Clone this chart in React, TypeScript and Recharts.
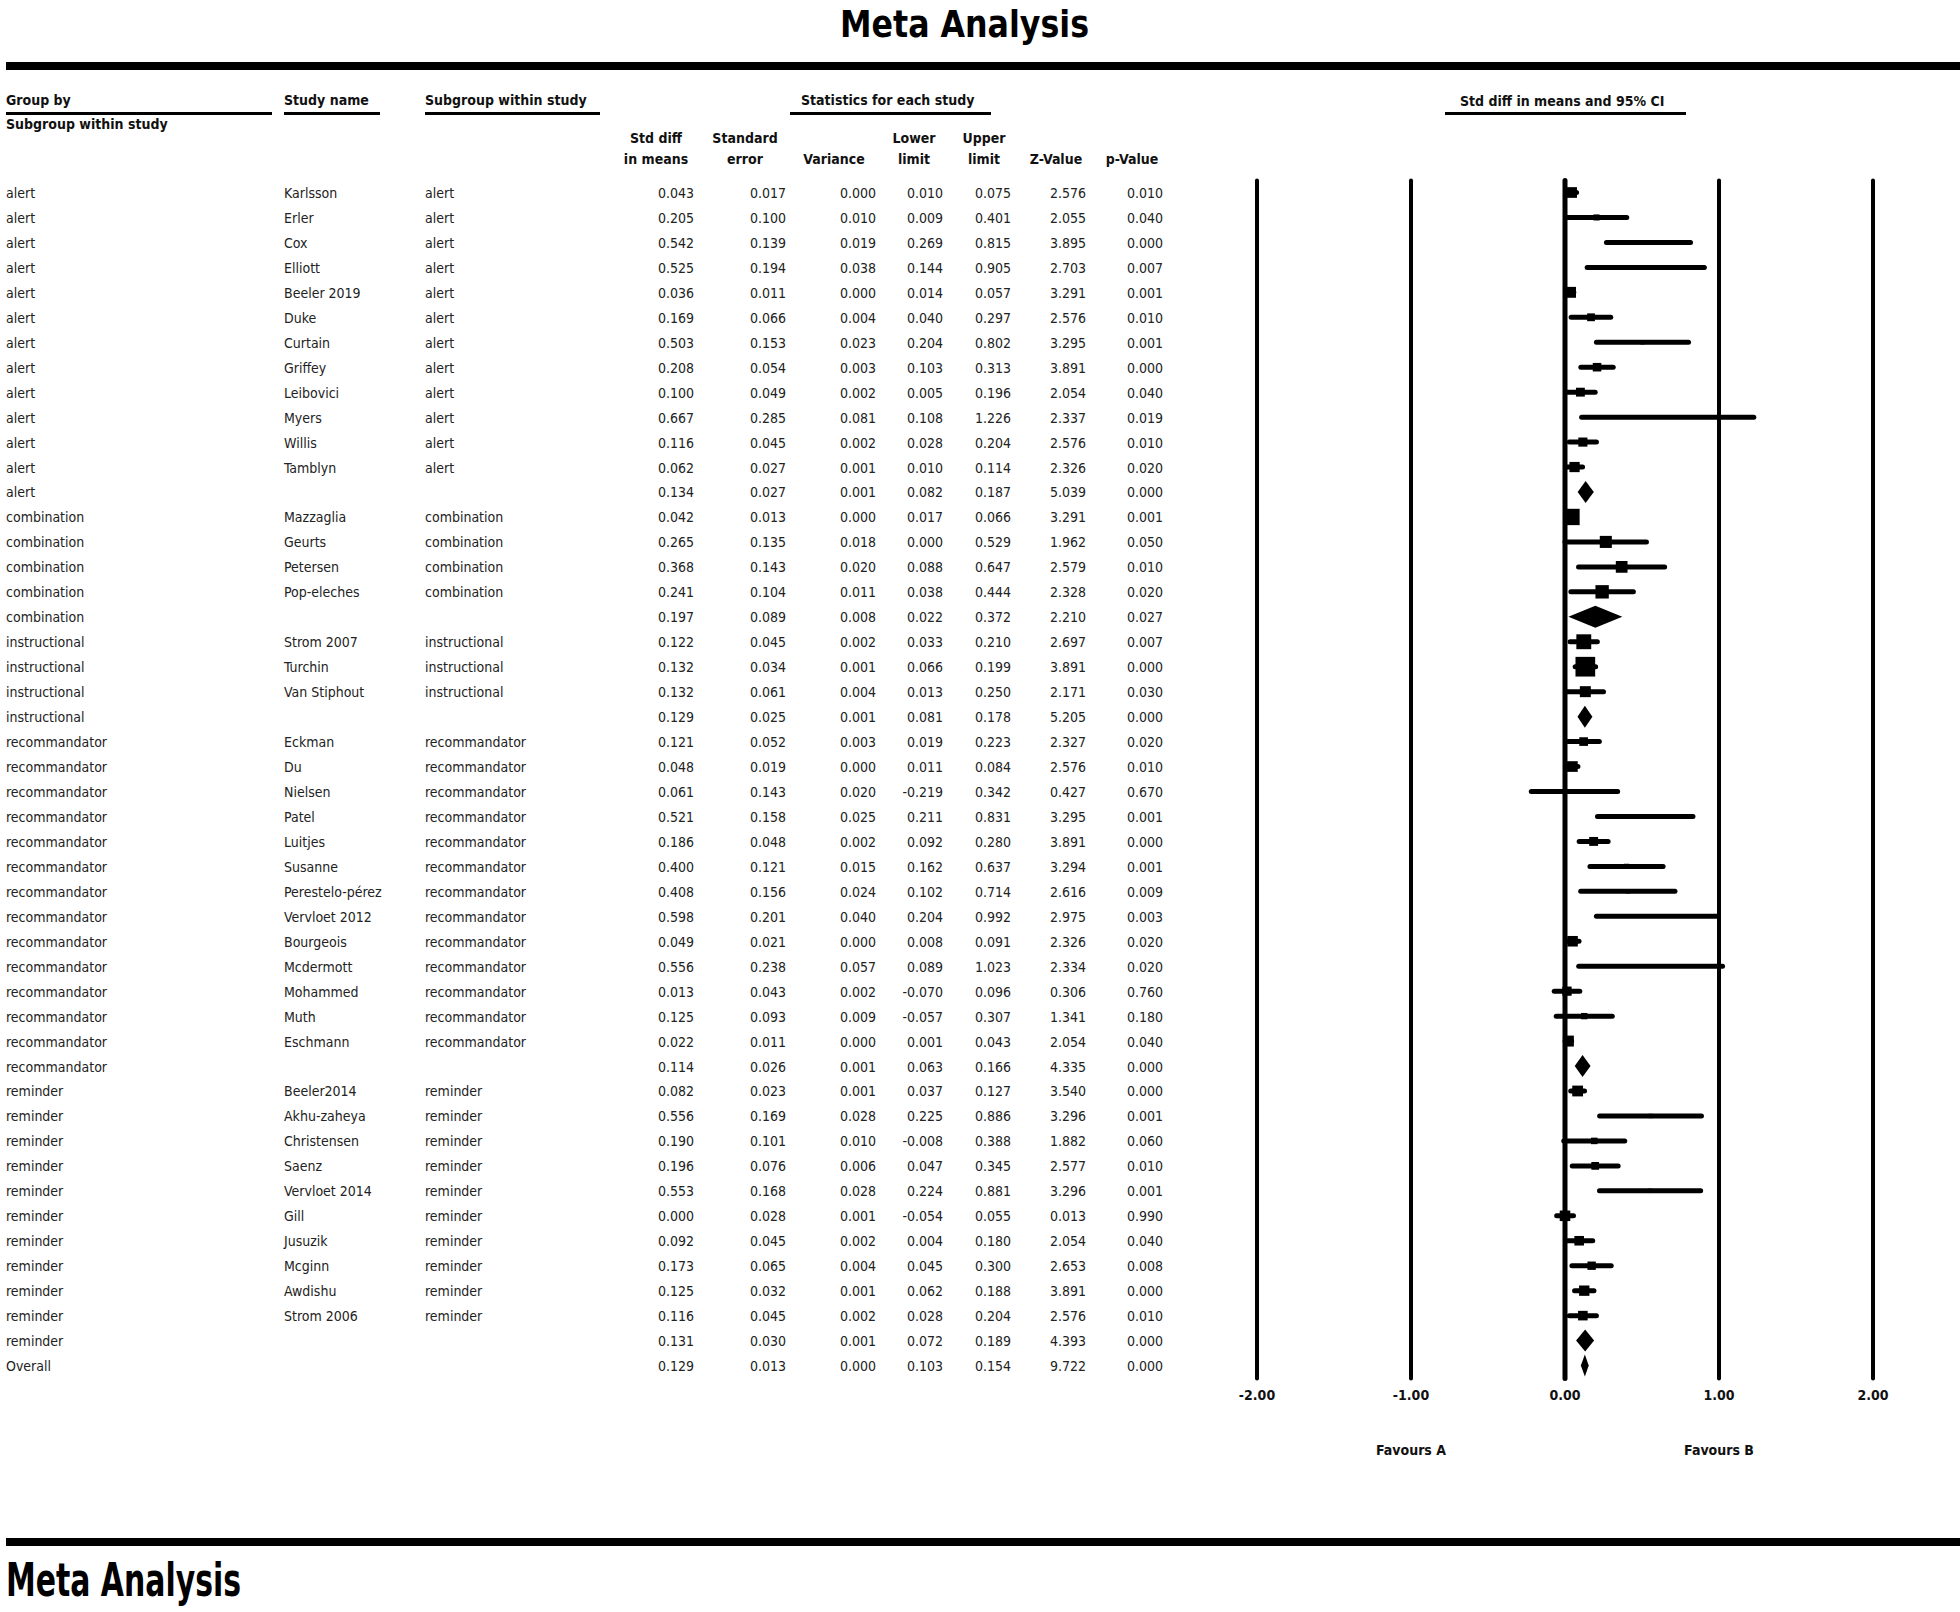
import React from 'react';
import { ComposedChart, Bar, XAxis, YAxis, ReferenceLine } from 'recharts';

const FONT = "'Liberation Sans Narrow', 'DejaVu Sans Condensed', 'Arial Narrow', sans-serif";

const groupBy = [
  'alert', 'alert', 'alert', 'alert', 'alert', 'alert', 'alert', 'alert', 'alert', 'alert', 'alert', 'alert', 'alert',
  'combination', 'combination', 'combination', 'combination', 'combination',
  'instructional', 'instructional', 'instructional', 'instructional',
  'recommandator', 'recommandator', 'recommandator', 'recommandator', 'recommandator', 'recommandator', 'recommandator',
  'recommandator', 'recommandator', 'recommandator', 'recommandator', 'recommandator', 'recommandator', 'recommandator',
  'reminder', 'reminder', 'reminder', 'reminder', 'reminder', 'reminder', 'reminder', 'reminder', 'reminder', 'reminder', 'reminder',
  'Overall',
];

// empty name = subgroup / overall summary row
const studyNames = [
  'Karlsson', 'Erler', 'Cox', 'Elliott', 'Beeler 2019', 'Duke', 'Curtain', 'Griffey', 'Leibovici', 'Myers', 'Willis', 'Tamblyn', '',
  'Mazzaglia', 'Geurts', 'Petersen', 'Pop-eleches', '',
  'Strom 2007', 'Turchin', 'Van Stiphout', '',
  'Eckman', 'Du', 'Nielsen', 'Patel', 'Luitjes', 'Susanne', 'Perestelo-pérez', 'Vervloet 2012', 'Bourgeois', 'Mcdermott',
  'Mohammed', 'Muth', 'Eschmann', '',
  'Beeler2014', 'Akhu-zaheya', 'Christensen', 'Saenz', 'Vervloet 2014', 'Gill', 'Jusuzik', 'Mcginn', 'Awdishu', 'Strom 2006', '',
  '',
];

const stdDiff = [
  0.043, 0.205, 0.542, 0.525, 0.036, 0.169, 0.503, 0.208, 0.100, 0.667, 0.116, 0.062, 0.134,
  0.042, 0.265, 0.368, 0.241, 0.197,
  0.122, 0.132, 0.132, 0.129,
  0.121, 0.048, 0.061, 0.521, 0.186, 0.400, 0.408, 0.598, 0.049, 0.556, 0.013, 0.125, 0.022, 0.114,
  0.082, 0.556, 0.190, 0.196, 0.553, 0.000, 0.092, 0.173, 0.125, 0.116, 0.131,
  0.129,
];

const stdErr = [
  0.017, 0.100, 0.139, 0.194, 0.011, 0.066, 0.153, 0.054, 0.049, 0.285, 0.045, 0.027, 0.027,
  0.013, 0.135, 0.143, 0.104, 0.089,
  0.045, 0.034, 0.061, 0.025,
  0.052, 0.019, 0.143, 0.158, 0.048, 0.121, 0.156, 0.201, 0.021, 0.238, 0.043, 0.093, 0.011, 0.026,
  0.023, 0.169, 0.101, 0.076, 0.168, 0.028, 0.045, 0.065, 0.032, 0.045, 0.030,
  0.013,
];

const variance = [
  0.000, 0.010, 0.019, 0.038, 0.000, 0.004, 0.023, 0.003, 0.002, 0.081, 0.002, 0.001, 0.001,
  0.000, 0.018, 0.020, 0.011, 0.008,
  0.002, 0.001, 0.004, 0.001,
  0.003, 0.000, 0.020, 0.025, 0.002, 0.015, 0.024, 0.040, 0.000, 0.057, 0.002, 0.009, 0.000, 0.001,
  0.001, 0.028, 0.010, 0.006, 0.028, 0.001, 0.002, 0.004, 0.001, 0.002, 0.001,
  0.000,
];

const lowerLimit = [
  0.010, 0.009, 0.269, 0.144, 0.014, 0.040, 0.204, 0.103, 0.005, 0.108, 0.028, 0.010, 0.082,
  0.017, 0.000, 0.088, 0.038, 0.022,
  0.033, 0.066, 0.013, 0.081,
  0.019, 0.011, -0.219, 0.211, 0.092, 0.162, 0.102, 0.204, 0.008, 0.089, -0.070, -0.057, 0.001, 0.063,
  0.037, 0.225, -0.008, 0.047, 0.224, -0.054, 0.004, 0.045, 0.062, 0.028, 0.072,
  0.103,
];

const upperLimit = [
  0.075, 0.401, 0.815, 0.905, 0.057, 0.297, 0.802, 0.313, 0.196, 1.226, 0.204, 0.114, 0.187,
  0.066, 0.529, 0.647, 0.444, 0.372,
  0.210, 0.199, 0.250, 0.178,
  0.223, 0.084, 0.342, 0.831, 0.280, 0.637, 0.714, 0.992, 0.091, 1.023, 0.096, 0.307, 0.043, 0.166,
  0.127, 0.886, 0.388, 0.345, 0.881, 0.055, 0.180, 0.300, 0.188, 0.204, 0.189,
  0.154,
];

const zValue = [
  2.576, 2.055, 3.895, 2.703, 3.291, 2.576, 3.295, 3.891, 2.054, 2.337, 2.576, 2.326, 5.039,
  3.291, 1.962, 2.579, 2.328, 2.210,
  2.697, 3.891, 2.171, 5.205,
  2.327, 2.576, 0.427, 3.295, 3.891, 3.294, 2.616, 2.975, 2.326, 2.334, 0.306, 1.341, 2.054, 4.335,
  3.540, 3.296, 1.882, 2.577, 3.296, 0.013, 2.054, 2.653, 3.891, 2.576, 4.393,
  9.722,
];

const pValue = [
  0.010, 0.040, 0.000, 0.007, 0.001, 0.010, 0.001, 0.000, 0.040, 0.019, 0.010, 0.020, 0.000,
  0.001, 0.050, 0.010, 0.020, 0.027,
  0.007, 0.000, 0.030, 0.000,
  0.020, 0.010, 0.670, 0.001, 0.000, 0.001, 0.009, 0.003, 0.020, 0.020, 0.760, 0.180, 0.040, 0.000,
  0.000, 0.001, 0.060, 0.010, 0.001, 0.990, 0.040, 0.008, 0.000, 0.010, 0.000,
  0.000,
];

const xTicks = [-2, -1, 0, 1, 2];

// random-effects (DerSimonian-Laird) share of each study inside its subgroup -> box area
const shareOf = (() => {
  const share: number[] = stdErr.map(() => 0);
  const names = Array.from(new Set(groupBy));
  names.forEach((g) => {
    const idx = groupBy.map((v, i) => i).filter((i) => groupBy[i] === g && studyNames[i] !== '');
    if (!idx.length) return;
    const w = idx.map((i) => 1 / (stdErr[i] * stdErr[i]));
    const sw = w.reduce((a, b) => a + b, 0);
    const mean = idx.reduce((a, i, k) => a + w[k] * stdDiff[i], 0) / sw;
    const q = idx.reduce((a, i, k) => a + w[k] * (stdDiff[i] - mean) ** 2, 0);
    const c = sw - w.reduce((a, b) => a + b * b, 0) / sw;
    const tau2 = Math.max(0, (q - (idx.length - 1)) / c);
    const rw = idx.map((i) => 1 / (stdErr[i] * stdErr[i] + tau2));
    const srw = rw.reduce((a, b) => a + b, 0);
    idx.forEach((i, k) => { share[i] = rw[k] / srw; });
  });
  return share;
})();

const rows = groupBy.map((g, i) => ({
  key: String(i),
  group: g,
  study: studyNames[i],
  subgroup: studyNames[i] ? g : '',
  ci: [lowerLimit[i], upperLimit[i]],
  mean: stdDiff[i],
  summary: studyNames[i] === '',
  share: shareOf[i],
}));

const numCols = [
  { values: stdDiff, right: 694 },
  { values: stdErr, right: 786 },
  { values: variance, right: 876 },
  { values: lowerLimit, right: 943 },
  { values: upperLimit, right: 1011 },
  { values: zValue, right: 1086 },
  { values: pValue, right: 1163 },
];

const RowTick = (props: any) => {
  const { y, payload } = props;
  const i = Number(payload.value);
  const r = rows[i];
  const base = y + 5;
  const st = { fontFamily: FONT, fontSize: 14, fill: '#222' };
  return (
    <g>
      <text x={6} y={base} {...st}>{r.group}</text>
      <text x={284} y={base} {...st}>{r.study}</text>
      <text x={425} y={base} {...st}>{r.subgroup}</text>
      {numCols.map((c, k) => (
        <text key={k} x={c.right} y={base} textAnchor="end" {...st}>{c.values[i].toFixed(3)}</text>
      ))}
    </g>
  );
};

const XTick = (props: any) => {
  const { x, payload } = props;
  return (
    <text x={x} y={1400} textAnchor="middle" fontFamily={FONT} fontSize={14} fontWeight="bold" fill="#111">
      {Number(payload.value).toFixed(2)}
    </text>
  );
};

const renderMarker = (props: any) => {
  const { x, y, width, height, payload } = props;
  const cy = y + height / 2;
  const lo = payload.ci[0];
  const hi = payload.ci[1];
  const xm = x + (width * (payload.mean - lo)) / (hi - lo);
  if (payload.summary) {
    const h = height / 2;
    return (
      <polygon points={`${x},${cy} ${xm},${cy - h} ${x + width},${cy} ${xm},${cy + h}`} fill="#000" />
    );
  }
  const s = 27 * Math.sqrt(payload.share);
  return (
    <g>
      <line x1={x} y1={cy} x2={x + width} y2={cy} stroke="#000" strokeWidth={5} strokeLinecap="round" />
      <rect x={xm - s / 2} y={cy - s / 2} width={s} height={s} fill="#000" />
    </g>
  );
};

const hdr = { fontFamily: FONT, fontSize: 14, fontWeight: 'bold' as const, fill: '#111' };

const underlines = [
  [6, 272],
  [284, 380],
  [425, 600],
  [790, 991],
  [1445, 1686],
];

export default function App() {
  return (
    <div style={{ position: 'relative', width: 1960, height: 1612, background: '#fff' }}>
      <style>{'body{margin:0}'}</style>
      <ComposedChart
        width={1960}
        height={1612}
        data={rows}
        layout="vertical"
        margin={{ top: 180.5, right: 87, bottom: 203.5, left: 0 }}
        barCategoryGap={0}
      >
        <XAxis
          type="number"
          domain={[-2, 2]}
          ticks={xTicks}
          allowDataOverflow
          height={30}
          axisLine={false}
          tickLine={false}
          tick={<XTick />}
        />
        <YAxis
          type="category"
          dataKey="key"
          width={1257}
          interval={0}
          axisLine={false}
          tickLine={false}
          tick={<RowTick />}
        />
        {xTicks.map((v) => (
          <ReferenceLine key={v} x={v} stroke="#000" strokeWidth={v === 0 ? 5 : 4} strokeLinecap="round" />
        ))}
        <Bar dataKey="ci" barSize={22} shape={renderMarker} isAnimationActive={false} />
      </ComposedChart>

      <svg width={1960} height={1612} style={{ position: 'absolute', left: 0, top: 0, pointerEvents: 'none' }}>
        <text x={840} y={37} fontFamily={FONT} fontSize={38} fontWeight="bold" fill="#000" textLength={249} lengthAdjust="spacingAndGlyphs">
          Meta Analysis
        </text>
        <rect x={6} y={62} width={1954} height={8} fill="#000" />

        <text x={6} y={105} {...hdr}>Group by</text>
        <text x={6} y={129} {...hdr}>Subgroup within study</text>
        <text x={284} y={105} {...hdr}>Study name</text>
        <text x={425} y={105} {...hdr}>Subgroup within study</text>
        <text x={801} y={105} {...hdr}>Statistics for each study</text>
        <text x={1460} y={106} {...hdr}>Std diff in means and 95% CI</text>
        {underlines.map(([a, b]) => (
          <rect key={a} x={a} y={112} width={b - a} height={3} fill="#000" />
        ))}

        <text x={656} y={143} textAnchor="middle" {...hdr}>Std diff</text>
        <text x={656} y={164} textAnchor="middle" {...hdr}>in means</text>
        <text x={745} y={143} textAnchor="middle" {...hdr}>Standard</text>
        <text x={745} y={164} textAnchor="middle" {...hdr}>error</text>
        <text x={834} y={164} textAnchor="middle" {...hdr}>Variance</text>
        <text x={914} y={143} textAnchor="middle" {...hdr}>Lower</text>
        <text x={914} y={164} textAnchor="middle" {...hdr}>limit</text>
        <text x={984} y={143} textAnchor="middle" {...hdr}>Upper</text>
        <text x={984} y={164} textAnchor="middle" {...hdr}>limit</text>
        <text x={1056} y={164} textAnchor="middle" {...hdr}>Z-Value</text>
        <text x={1132} y={164} textAnchor="middle" {...hdr}>p-Value</text>

        <text x={1411} y={1455} textAnchor="middle" {...hdr}>Favours A</text>
        <text x={1719} y={1455} textAnchor="middle" {...hdr}>Favours B</text>

        <rect x={6} y={1538} width={1954} height={8} fill="#000" />
        <text x={6} y={1596} fontFamily={FONT} fontSize={46} fontWeight="bold" fill="#000" textLength={235} lengthAdjust="spacingAndGlyphs">
          Meta Analysis
        </text>
      </svg>
    </div>
  );
}
